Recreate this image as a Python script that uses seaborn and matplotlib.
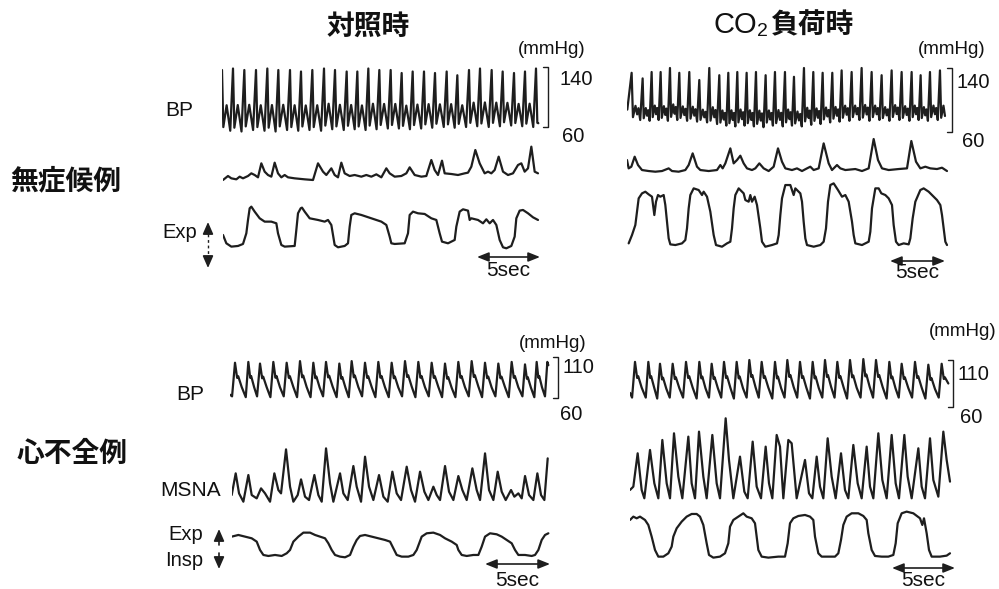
import numpy as np
import matplotlib
matplotlib.use("Agg")
import matplotlib.pyplot as plt
from matplotlib import transforms
import seaborn as sns

sns.set_theme(style="white")
plt.rcParams['font.family'] = ['Liberation Sans', 'Noto Sans CJK JP', 'DejaVu Sans']

W, H = 999, 589
INK = '#1e1e1e'
LW = 1.6
JP = ['Noto Sans CJK JP', 'DejaVu Sans']

# ---------------- text ----------------
COL_TITLES = ["対照時", "負荷時"]
ROW_LABELS = ["無症候例", "心不全例"]
UNIT = "(mmHg)"
SCALE_SEC = 5
BP_RANGE = {"TL": (60, 140), "TR": (60, 140), "BL": (60, 110), "BR": (60, 110)}

# samples per second of each panel (x values below are sample indices)
FS = {"TL": 37.8, "TR": 33.0, "BL": 39.0, "BR": 37.8}
SCALE_END = {"TL": 951, "TR": 954, "BL": 955, "BR": 975}

# ---------------- blood pressure: beat times, systolic / diastolic (mmHg) ----------------
TL_BP_PEAK_T = [0, 33, 67, 102, 136, 169, 204, 237, 271, 306, 339, 374, 406, 439, 472,
                506, 539, 572, 606, 639, 674, 706, 741, 774, 809, 842, 876, 909, 942]
TL_BP_SYS = [136, 138, 136, 136, 138, 136, 136, 134, 136, 138, 136, 134, 134, 138, 136,
             136, 132, 134, 134, 132, 134, 129, 136, 138, 136, 134, 132, 134, 138]
TL_BP_DIA = [55, 54, 56, 55, 54, 56, 55, 56, 55, 57, 56, 57, 56, 57, 58,
             58, 57, 58, 59, 60, 59, 60, 61, 60, 61, 62, 61, 60, 61]

TR_BP_PEAK_T = [13, 46, 73, 100, 128, 156, 186, 216, 246, 276, 303, 330, 358, 386, 415, 443,
                473, 500, 530, 558, 586, 615, 643, 673, 703, 733, 763, 793, 823, 853, 880, 908, 938]
TR_BP_SYS = [134, 127, 135, 135, 140, 134, 135, 125, 140, 131, 134, 135, 134, 135, 131, 135,
             135, 129, 140, 135, 134, 134, 137, 135, 140, 135, 131, 137, 135, 135, 131, 135, 137]
TR_BP_DIA = [75, 74, 75, 74, 75, 74, 73, 72, 70, 68, 67, 68, 67, 66, 68, 67,
             68, 67, 69, 70, 72, 73, 74, 75, 74, 75, 74, 75, 74, 75, 74, 75, 74]

BL_BP_PEAK_T = [15, 55, 90, 130, 170, 210, 250, 288, 328, 365, 405, 445, 485, 525, 565,
                605, 645, 685, 725, 765, 805, 845, 885, 920, 952]
BL_BP_SYS = [103, 104, 102, 104, 103, 105, 103, 104, 102, 105, 103, 104, 103, 105, 104,
             103, 102, 104, 105, 103, 102, 104, 101, 104, 104]
BL_BP_DIA = [62, 61, 62, 61, 62, 61, 61, 62, 61, 61, 62, 61, 61, 62, 61,
             62, 61, 61, 62, 61, 62, 61, 62, 61, 62]

BR_BP_PEAK_T = [15, 55, 90, 128, 168, 208, 245, 282, 320, 358, 395, 435, 472, 510, 548,
                585, 622, 660, 700, 738, 778, 815, 855, 895, 935]
BR_BP_SYS = [108, 108, 106, 106, 108, 108, 106, 108, 108, 110, 108, 108, 110, 108, 108,
             110, 108, 110, 111, 110, 108, 106, 108, 105, 106]
BR_BP_DIA = [70, 70, 69, 70, 70, 69, 70, 70, 69, 70, 70, 69, 70, 70, 69,
             70, 70, 69, 70, 70, 69, 70, 70, 69, 70]

# beat waveform: (fraction of beat interval, level between dia and sys)
TOP_SHAPE_TL = [(0.0, 1.0), (0.12, 0.06), (0.42, 0.42), (0.75, 0.0)]
TOP_SHAPE_TR = [(0.0, 1.0), (0.12, 0.06), (0.35, 0.30), (0.50, 0.12), (0.62, 0.25), (0.78, 0.0)]
BOTTOM_SHAPE = [(-0.22, 0.0), (0.0, 1.0), (0.16, 0.55), (0.24, 0.60), (0.50, 0.28)]

# ---------------- MSNA (a.u.) : (sample, value) ----------------
TL_MSNA = [(0, 0), (15, 12), (25, 5), (40, 2), (50, 10), (60, 5), (75, 12), (85, 20), (95, 15), (105, 8),
           (115, 50), (125, 25), (135, 15), (145, 10), (155, 52), (165, 20), (175, 8), (185, 15), (195, 8),
           (215, 5), (245, 2), (270, 0), (285, 50), (300, 25), (310, 15), (325, 35), (335, 15), (345, 8),
           (355, 52), (365, 20), (380, 12), (395, 15), (415, 10), (430, 15), (445, 10), (460, 17), (475, 8),
           (490, 35), (500, 20), (515, 10), (535, 12), (550, 20), (560, 38), (575, 15), (595, 10), (610, 12),
           (625, 60), (635, 30), (645, 15), (657, 58), (665, 20), (685, 18), (705, 15), (725, 20), (735, 22),
           (745, 40), (757, 90), (770, 50), (785, 20), (795, 25), (805, 20), (815, 30), (827, 70), (840, 25),
           (855, 15), (870, 20), (885, 45), (895, 50), (905, 25), (915, 35), (925, 100), (935, 25), (945, 20)]
TR_MSNA = [(0, 35), (5, 10), (13, 15), (23, 45), (33, 20), (45, 5), (65, 2), (85, 0), (105, 2), (125, 10),
           (135, 2), (155, 0), (175, 5), (185, 20), (197, 55), (210, 15), (220, 5), (245, 2), (270, 5),
           (280, 20), (287, 10), (295, 25), (310, 70), (320, 25), (330, 35), (340, 48), (350, 25), (360, 10),
           (375, 5), (385, 10), (397, 25), (410, 10), (425, 2), (440, 15), (453, 70), (465, 30), (475, 10),
           (495, 5), (510, 10), (525, 2), (540, 10), (550, 15), (560, 5), (575, 10), (590, 85), (605, 25),
           (615, 5), (630, 20), (640, 10), (655, 5), (685, 8), (705, 2), (725, 10), (740, 98), (753, 35),
           (765, 10), (785, 5), (815, 8), (840, 10), (853, 92), (867, 30), (880, 10), (895, 15), (910, 10),
           (930, 8), (945, 12), (960, 2)]
BL_MSNA = [(0, 20), (12, 85), (22, 25), (35, 0), (50, 80), (60, 20), (75, 10), (88, 40), (100, 25), (115, 0),
           (128, 85), (140, 35), (148, 25), (163, 157), (175, 45), (185, 0), (198, 20), (208, 67), (220, 15),
           (232, 5), (248, 80), (260, 20), (270, 0), (283, 160), (295, 55), (305, 0), (325, 85), (335, 25),
           (348, 5), (365, 107), (375, 45), (388, 0), (400, 135), (412, 45), (425, 5), (442, 80), (455, 15),
           (468, 0), (482, 90), (495, 25), (508, 5), (525, 105), (538, 35), (550, 0), (565, 90), (578, 30),
           (590, 5), (605, 45), (615, 20), (625, 5), (640, 107), (652, 30), (665, 5), (680, 77), (692, 35),
           (705, 5), (722, 100), (735, 35), (745, 5), (760, 145), (772, 35), (785, 5), (798, 90), (810, 30),
           (822, 5), (838, 35), (848, 15), (860, 25), (870, 10), (880, 77), (892, 20), (905, 5), (917, 85),
           (928, 20), (938, 5), (948, 130)]
BR_MSNA = [(0, 25), (10, 35), (23, 135), (35, 25), (43, 0), (60, 145), (73, 45), (85, 0), (97, 175), (110, 45),
           (120, 0), (132, 195), (145, 65), (157, 0), (175, 185), (185, 45), (195, 0), (207, 200), (220, 65),
           (230, 0), (247, 190), (260, 45), (270, 0), (287, 240), (297, 115), (310, 0), (330, 125), (343, 20),
           (353, 0), (368, 170), (380, 35), (393, 0), (407, 155), (417, 45), (427, 0), (440, 190), (450, 155),
           (460, 0), (475, 175), (485, 165), (500, 0), (525, 115), (537, 15), (547, 0), (560, 125), (570, 35),
           (580, 0), (593, 180), (605, 65), (617, 0), (633, 135), (645, 25), (655, 0), (670, 160), (683, 45),
           (695, 0), (710, 155), (720, 35), (730, 0), (745, 195), (757, 55), (770, 0), (785, 190), (797, 45),
           (807, 0), (823, 190), (833, 65), (845, 0), (865, 150), (875, 35), (885, 0), (900, 180), (910, 55),
           (925, 5), (940, 200), (950, 115), (960, 50)]

# ---------------- respiration (a.u.) : (sample, value) ----------------
TL_RESP = [(0, 40), (10, 15), (25, 5), (45, 7), (60, 13), (70, 45), (75, 85), (80, 120), (85, 125), (95, 110),
           (110, 90), (125, 80), (145, 80), (160, 75), (165, 45), (175, 10), (185, 5), (215, 7), (220, 55),
           (225, 105), (233, 120), (237, 122), (245, 110), (260, 90), (285, 85), (305, 80), (315, 85), (325, 70),
           (330, 40), (335, 10), (345, 3), (365, 7), (375, 15), (380, 65), (385, 100), (395, 105), (415, 100),
           (445, 90), (475, 80), (490, 70), (500, 35), (505, 15), (515, 13), (545, 15), (555, 45), (560, 100),
           (570, 110), (585, 105), (605, 103), (625, 90), (640, 85), (650, 45), (657, 20), (675, 15), (695, 25),
           (700, 65), (710, 110), (720, 117), (735, 113), (740, 85), (745, 90), (765, 85), (780, 75), (790, 87),
           (800, 75), (810, 85), (820, 70), (830, 25), (840, 3), (850, 0), (865, 7), (875, 35), (880, 90),
           (890, 113), (900, 115), (915, 105), (930, 93), (945, 85)]
TR_RESP = [(5, 10), (15, 35), (25, 65), (30, 105), (35, 145), (45, 160), (55, 165), (65, 157), (75, 150),
           (82, 95), (87, 135), (93, 155), (100, 150), (110, 155), (115, 125), (120, 75), (125, 25), (130, 7),
           (145, 5), (165, 10), (175, 20), (180, 55), (185, 115), (190, 155), (200, 175), (215, 170), (225, 155),
           (230, 165), (240, 150), (250, 105), (260, 35), (267, 5), (285, 0), (300, 10), (310, 15), (315, 55),
           (320, 115), (325, 155), (335, 175), (350, 160), (355, 140), (365, 135), (370, 155), (375, 135),
           (383, 150), (390, 125), (400, 55), (405, 15), (415, 0), (435, 5), (450, 10), (455, 35), (460, 95),
           (465, 145), (475, 185), (490, 185), (500, 155), (505, 175), (520, 160), (525, 135), (530, 75),
           (535, 25), (540, 5), (560, 0), (580, 5), (590, 15), (597, 55), (603, 135), (610, 185), (620, 190),
           (633, 170), (645, 150), (655, 155), (665, 135), (675, 75), (680, 35), (685, 10), (705, 5), (725, 15),
           (730, 45), (735, 115), (745, 175), (755, 175), (763, 160), (775, 155), (785, 145), (795, 125),
           (800, 65), (807, 15), (815, 5), (830, 10), (845, 7), (850, 25), (857, 85), (865, 135), (880, 170),
           (890, 175), (905, 165), (920, 150), (930, 140), (940, 125), (945, 95), (950, 55), (955, 15), (960, 5)]
BL_RESP = [(0, 65), (20, 70), (40, 65), (60, 60), (75, 50), (85, 25), (95, 10), (110, 7), (130, 10), (150, 7),
           (165, 15), (175, 25), (185, 50), (200, 65), (215, 77), (235, 77), (250, 70), (265, 65), (280, 60),
           (290, 45), (300, 25), (310, 10), (325, 5), (340, 3), (355, 10), (365, 35), (375, 55), (385, 67),
           (400, 70), (420, 65), (440, 60), (460, 55), (475, 50), (485, 30), (495, 10), (510, 5), (530, 5),
           (545, 10), (555, 25), (570, 65), (585, 75), (605, 77), (625, 70), (640, 60), (660, 50), (675, 40),
           (680, 25), (690, 10), (705, 7), (725, 10), (740, 10), (750, 35), (760, 65), (775, 75), (795, 72),
           (810, 65), (825, 55), (840, 45), (850, 25), (860, 10), (880, 10), (900, 7), (910, 10), (920, 25),
           (930, 55), (940, 70), (950, 75)]
BR_RESP = [(0, 115), (10, 125), (20, 120), (30, 125), (45, 115), (55, 100), (65, 65), (75, 25), (85, 5),
           (100, 5), (115, 15), (125, 35), (130, 65), (140, 90), (155, 110), (170, 125), (185, 133), (200, 133),
           (210, 125), (220, 100), (230, 45), (237, 10), (250, 2), (270, 5), (285, 15), (295, 45), (300, 95),
           (310, 115), (325, 125), (340, 135), (350, 125), (365, 120), (375, 105), (380, 65), (385, 25),
           (395, 5), (415, 2), (445, 5), (465, 5), (473, 45), (480, 105), (490, 120), (505, 127), (525, 130),
           (540, 125), (550, 115), (555, 65), (565, 15), (575, 5), (595, 5), (615, 5), (625, 15), (633, 55),
           (640, 100), (650, 125), (665, 135), (685, 135), (700, 127), (710, 115), (715, 75), (725, 25),
           (735, 7), (755, 5), (775, 5), (790, 10), (797, 45), (803, 105), (815, 135), (830, 140), (850, 135),
           (870, 120), (877, 100), (882, 120), (890, 75), (897, 25), (905, 5), (930, 5), (950, 8), (960, 15)]


# ---------------- helpers ----------------
def build_bp(peak_t, sys_, dia_, shape, t_end, v_end, v_start=None):
    t, v = [], []
    n = len(peak_t)
    if v_start is not None:
        t.append(0.0); v.append(v_start)
    for i in range(n):
        P = (peak_t[i + 1] - peak_t[i]) if i < n - 1 else (peak_t[i] - peak_t[i - 1])
        for ph, lev in shape:
            tt = peak_t[i] + ph * P
            if tt >= t_end or (t and tt <= t[-1]):
                continue
            t.append(tt)
            v.append(dia_[i] + lev * (sys_[i] - dia_[i]))
    t.append(t_end); v.append(v_end)
    return np.array(t), np.array(v)


fig = plt.figure(figsize=(W / 100, H / 100), dpi=100)
fig.patch.set_facecolor('white')

ov = fig.add_axes([0, 0, 1, 1])
ov.set_xlim(0, W); ov.set_ylim(H, 0); ov.axis('off')


def trace_axes(x0, yref, vref, sy, xlim, ylim, sx=1 / 3):
    left = x0 + xlim[0] * sx
    right = x0 + xlim[1] * sx
    top = yref - (ylim[1] - vref) * sy
    bottom = yref - (ylim[0] - vref) * sy
    return fig.add_axes([left / W, 1 - bottom / H, (right - left) / W, (bottom - top) / H])


def draw(ax, t, v, xlim, ylim):
    sns.lineplot(x=t, y=v, ax=ax, color=INK, linewidth=LW, estimator=None,
                 sort=False, legend=False)
    ax.set_xlim(*xlim); ax.set_ylim(*ylim); ax.axis('off')


def pairs(p):
    a = np.array(p, dtype=float)
    return a[:, 0], a[:, 1]


# layout per panel
PANELS = {
    "TL": dict(bp=(TL_BP_PEAK_T, TL_BP_SYS, TL_BP_DIA, TOP_SHAPE_TL, 949, 65, None),
               bp_geo=(222, 127, 0.75), msna=TL_MSNA, resp=TL_RESP,
               tr_x0=223, msna_y=180.0, resp_y=248.3, br_x=978,
               lab_hi=(8.5, -2), lab_lo=(10, 0), arrow_y=257, text_y=271),
    "TR": dict(bp=(TR_BP_PEAK_T, TR_BP_SYS, TR_BP_DIA, TOP_SHAPE_TR, 953, 80, 88),
               bp_geo=(627.3, 132, 0.8), msna=TR_MSNA, resp=TR_RESP,
               tr_x0=627, msna_y=171.7, resp_y=246.7, br_x=974,
               lab_hi=(3.6, -3.6), lab_lo=(7, 0), arrow_y=261, text_y=273),
    "BL": dict(bp=(BL_BP_PEAK_T, BL_BP_SYS, BL_BP_DIA, BOTTOM_SHAPE, 955, 100, 64),
               bp_geo=(230, 398, 0.82), msna=BL_MSNA, resp=BL_RESP,
               tr_x0=231.7, msna_y=501.7, resp_y=558.3, br_x=984,
               lab_hi=(3, -0.7), lab_lo=(1.5, -5), arrow_y=564, text_y=580),
    "BR": dict(bp=(BR_BP_PEAK_T, BR_BP_SYS, BR_BP_DIA, BOTTOM_SHAPE, 955, 85, 75),
               bp_geo=(630, 407, 0.94), msna=BR_MSNA, resp=BR_RESP,
               tr_x0=630, msna_y=498.3, resp_y=558.3, br_x=969,
               lab_hi=(3, -3.6), lab_lo=(5, -0.7), arrow_y=568, text_y=581),
}

for key, g in PANELS.items():
    lo, hi = BP_RANGE[key]
    # blood pressure
    x0, yref, sy = g["bp_geo"]
    xl, yl = (0, 960), (lo - 25, hi + 15)
    ax = trace_axes(x0, yref, lo, sy, xl, yl)
    t, v = build_bp(*g["bp"])
    draw(ax, t, v, xl, yl)
    xb = g["br_x"]
    ax.plot([xb - 15, xb, xb, xb - 15], [hi, hi, lo, lo], color=INK, lw=1.0, clip_on=False)
    ax.annotate(str(hi), xy=(xb, hi), xytext=g["lab_hi"], textcoords='offset points',
                ha='left', va='top', fontsize=14.5, color='#111111', annotation_clip=False)
    ax.annotate(str(lo), xy=(xb, lo), xytext=g["lab_lo"], textcoords='offset points',
                ha='left', va='top', fontsize=14.5, color='#111111', annotation_clip=False)
    # MSNA
    xl, yl = (0, 980), (-15, 250)
    ax = trace_axes(g["tr_x0"], g["msna_y"], 0, 1 / 3, xl, yl)
    t, v = pairs(g["msna"])
    draw(ax, t, v, xl, yl)
    # respiration
    xl, yl = (0, 980), (-15, 200)
    ax = trace_axes(g["tr_x0"], g["resp_y"], 0, 1 / 3, xl, yl)
    t, v = pairs(g["resp"])
    draw(ax, t, v, xl, yl)
    # 5 sec scale bar
    trans = transforms.blended_transform_factory(ax.transData, fig.transFigure)
    xe = SCALE_END[key]
    xs = xe - SCALE_SEC * FS[key]
    ya = 1 - g["arrow_y"] / H
    ax.annotate('', xy=(xe, ya), xytext=(xs, ya), xycoords=trans, textcoords=trans,
                arrowprops=dict(arrowstyle='<|-|>,head_length=0.7,head_width=0.28', color=INK,
                                lw=1.2, shrinkA=0, shrinkB=0, mutation_scale=10),
                annotation_clip=False)
    ax.text((xs + xe) / 2, 1 - g["text_y"] / H, f"{SCALE_SEC}sec", transform=trans,
            ha='center', va='center', fontsize=15, color='#111111', clip_on=False)

# ---------------- titles & labels ----------------
ov.text(368, 27, COL_TITLES[0], fontsize=20, fontweight='bold', family=JP,
        ha='center', va='center', color='#111111')
ov.text(757, 25, "CO", fontsize=21, ha='right', va='center', color='#111111')
ov.text(757, 31, "2", fontsize=14, ha='left', va='center', color='#111111')
ov.text(770, 25, COL_TITLES[1], fontsize=20, fontweight='bold', family=JP,
        ha='left', va='center', color='#111111')
ov.text(66, 181, ROW_LABELS[0], fontsize=20, fontweight='bold', family=JP,
        ha='center', va='center', color='#111111')
ov.text(72, 454, ROW_LABELS[1], fontsize=20, fontweight='bold', family=JP,
        ha='center', va='center', color='#111111')

for (x, y) in [(552, 50), (952, 50), (553, 344), (963, 331)]:
    ov.text(x, y, UNIT, fontsize=13.5, ha='center', va='center', color='#111111')

ov.text(179, 111, "BP", fontsize=15, ha='center', va='center', color='#111111')
ov.text(190, 394, "BP", fontsize=15, ha='center', va='center', color='#111111')
ov.text(197, 232, "Exp", fontsize=14.5, ha='right', va='center', color='#111111')
ov.text(221, 490, "MSNA", fontsize=15, ha='right', va='center', color='#111111')
ov.text(203, 534, "Exp", fontsize=14.5, ha='right', va='center', color='#111111')
ov.text(203, 561, "Insp", fontsize=14.5, ha='right', va='center', color='#111111')

head = dict(arrowstyle='-|>,head_length=0.8,head_width=0.35', color=INK, lw=1.2,
            shrinkA=0, shrinkB=0, mutation_scale=9)
ov.annotate('', xy=(208, 222), xytext=(208, 234), arrowprops=head)
ov.plot([208, 208], [234, 257], color=INK, lw=1.0, ls=(0, (2, 2)))
ov.annotate('', xy=(208, 268), xytext=(208, 257), arrowprops=head)
ov.annotate('', xy=(219, 529), xytext=(219, 545), arrowprops=head)
ov.annotate('', xy=(219, 569), xytext=(219, 553), arrowprops=head)

fig.savefig("out.png", dpi=100, facecolor='white')
